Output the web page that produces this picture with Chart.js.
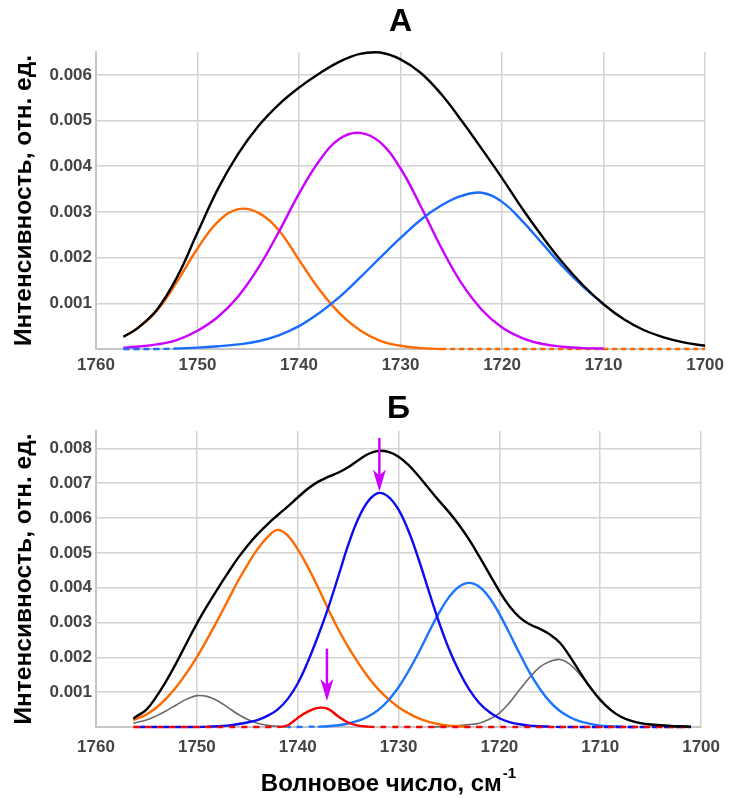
<!DOCTYPE html>
<html lang="ru">
<head>
<meta charset="utf-8">
<title>Разложение полосы</title>
<script src="https://cdn.jsdelivr.net/npm/chart.js@4.4.1/dist/chart.umd.min.js"></script>
<style>
  body { margin: 0; background: #fff; }
  canvas { position: absolute; left: 0; }
  #chartA { top: 0; }
  #chartB { top: 390px; }
</style>
</head>
<body>
<canvas id="chartA" width="730" height="390"></canvas>
<canvas id="chartB" width="730" height="408"></canvas>
<script>
// tick labels
const xTicks = [1760, 1750, 1740, 1730, 1720, 1710, 1700];
const yTicksA = [0, 0.001, 0.002, 0.003, 0.004, 0.005, 0.006];
const yTicksB = [0, 0.001, 0.002, 0.003, 0.004, 0.005, 0.006, 0.007, 0.008];

// panel A, wavenumber in cm-1
const wnA = [1757.3, 1756, 1754, 1752, 1750, 1748, 1746, 1744, 1742, 1740, 1738, 1736, 1734, 1732, 1730,
  1728, 1726, 1724, 1722, 1720, 1718, 1716, 1714, 1712, 1710, 1708, 1706, 1704, 1702, 1700];
const blackA = [0.00027, 0.00044, 0.00086, 0.00158, 0.00255, 0.0035, 0.00427, 0.00488, 0.00535, 0.00572, 0.00603,
  0.00629, 0.00646, 0.00649, 0.00634, 0.00604, 0.00558, 0.005, 0.00438, 0.00374, 0.00307, 0.00245, 0.00188,
  0.00139, 0.00098, 0.00065, 0.00041, 0.00025, 0.00014, 0.00007];
const orangeA = [0.00027, 0.00044, 0.00084, 0.00148, 0.0022, 0.00278, 0.00306, 0.00298, 0.0026, 0.00195, 0.0013,
  0.00078, 0.00041, 0.00018, 0.00007, 0.00002, 0, 0, 0, 0, 0, 0, 0, 0, 0, 0, 0, 0, 0, 0];
const magentaA = [0.00003, 0.00005, 0.0001, 0.0002, 0.0004, 0.0007, 0.00115, 0.00178, 0.00256, 0.0034, 0.00412,
  0.0046, 0.00473, 0.00452, 0.00395, 0.00312, 0.00222, 0.00144, 0.00086, 0.00047, 0.00024, 0.00011, 0.00005,
  0.00002, 0.00001, null, null, null, null, null];
const blueA = [0, 0, 0, 0.00001, 0.00003, 0.00006, 0.0001, 0.00017, 0.0003, 0.0005, 0.00079, 0.00114, 0.00156,
  0.002, 0.00243, 0.00283, 0.00314, 0.00335, 0.00342, 0.00322, 0.0028, 0.0023, 0.0018, 0.00136, 0.00098,
  null, null, null, null, null];

// panel B
const wnB = [1756.3, 1756, 1755, 1754, 1753, 1752, 1751, 1750, 1749, 1748, 1747, 1746, 1745, 1744, 1743, 1742,
  1741, 1740, 1739, 1738, 1737, 1736, 1735, 1734, 1733, 1732, 1731, 1730, 1729, 1728, 1727, 1726, 1725, 1724,
  1723, 1722, 1721, 1720, 1719, 1718, 1717, 1716, 1715, 1714, 1713, 1712, 1711, 1710, 1709, 1708, 1707, 1706,
  1705, 1704, 1703, 1702, 1701];
const blackB = [0.00024, 0.0003, 0.0005, 0.00088, 0.00134, 0.00186, 0.00242, 0.00297, 0.00347, 0.00394, 0.00439,
  0.00482, 0.0052, 0.00553, 0.00582, 0.00608, 0.00633, 0.00659, 0.00684, 0.00704, 0.00718, 0.0073, 0.00746,
  0.00766, 0.00784, 0.00793, 0.0079, 0.00776, 0.00752, 0.0072, 0.00685, 0.0065, 0.00617, 0.0058, 0.00538,
  0.0049, 0.0044, 0.0039, 0.00347, 0.00315, 0.00295, 0.00282, 0.00266, 0.00242, 0.00202, 0.00157, 0.00114,
  0.00078, 0.0005, 0.0003, 0.00018, 0.00011, 0.00007, 0.00005, 0.00003, 0.00002, 0.00001];
const orangeB = [0.0002, 0.00023, 0.00036, 0.00056, 0.00083, 0.00116, 0.00156, 0.00201, 0.00251, 0.00304, 0.00359,
  0.00415, 0.00465, 0.0051, 0.00545, 0.00566, 0.0055, 0.0051, 0.0046, 0.00402, 0.0034, 0.00282, 0.0023,
  0.00184, 0.00143, 0.00108, 0.0008, 0.00057, 0.00039, 0.00025, 0.00015, 0.00008, 0.00004, 0.00002, 0,
  null, null, null, null, null, null, null, null, null, null, null,
  null, null, null, null, null, null, null, null, null, null, null];
const grayB = [0.0001, 0.00013, 0.0002, 0.00032, 0.00047, 0.00064, 0.0008, 0.0009, 0.00088, 0.00076, 0.00058,
  0.00038, 0.00022, 0.00011, 0.00005, 0.00002, 0,
  null, null, null, null, null, null, null, null, null, null, null, null, null,
  0, 0.00001, 0.00002, 0.00004, 0.00007, 0.00011, 0.00022, 0.0004, 0.0007, 0.00107, 0.00142, 0.00172, 0.00188,
  0.00194, 0.0018, 0.0015, 0.00113, 0.00078, 0.0005, 0.0003, 0.00018, 0.00011, 0.00007, 0.00004, 0.00002,
  0.00001, 0];
const darkBlueB = [0, 0, 0, 0, 0, 0, 0, 0,
  0.00001, 0.00002, 0.00004, 0.00008, 0.00013, 0.0002, 0.00032, 0.0005, 0.0008, 0.00125, 0.00187, 0.0026, 0.0034,
  0.0043, 0.00522, 0.00598, 0.00649, 0.00672, 0.00661, 0.00624, 0.00562, 0.00481, 0.0039, 0.00302, 0.00224, 0.0016,
  0.00108, 0.00069, 0.00043, 0.00025, 0.00014, 0.00008, 0.00004, 0.00002, 0.00001,
  0, 0, 0, 0, 0, 0, 0, 0, 0, 0, 0, 0, 0, 0];
const redB = [0, 0, 0, 0, 0, 0, 0, 0, 0, 0, 0, 0, 0, 0, 0, 0,
  0.00005, 0.00026, 0.00044, 0.00055, 0.00052, 0.00031, 0.00013, 0.00004, 0.00001,
  0, 0, 0, 0, 0, 0, 0, 0, 0, 0, 0, 0, 0, 0, 0, 0, 0, 0, 0, 0, 0, 0, 0, 0, 0, 0, 0, 0, 0, 0, 0, 0];
const lightBlueB = [null, null, null, null, null, null, null, null, null, null, null, null, null, null, null, null,
  0, 0, 0.00001, 0.00001, 0.00002, 0.00005, 0.0001, 0.00018, 0.0003, 0.00049, 0.00077, 0.00114, 0.00161,
  0.00214, 0.00272, 0.00327, 0.00373, 0.00403, 0.00414, 0.00403, 0.00372, 0.00325, 0.00269, 0.00211, 0.00156,
  0.0011, 0.00073, 0.00046, 0.00028, 0.00016, 0.00009, 0.00004, 0.00002, 0.00001, 0, 0,
  null, null, null, null, null];

// magenta arrows on panel B: wavenumber, tail and tip intensity
const arrowX = [1731.9, 1737.1];
const arrowTail = [0.0083, 0.00225];
const arrowTip = [0.00676, 0.00075];

const FONT = "'Liberation Sans', Arial, sans-serif";
const ZERO = 1.5e-5;
Chart.defaults.font.family = FONT;

function lineSet(xs, ys, color, width, dash, dashOffset) {
  return {
    data: xs.map((x, i) => ({ x, y: ys[i] })),
    borderColor: color,
    borderWidth: width,
    pointRadius: 0,
    tension: 0.4,
    clip: 6,
    borderDashOffset: dashOffset || 0,
    segment: dash
      ? { borderDash: (ctx) => (ctx.p0.parsed.y < ZERO && ctx.p1.parsed.y < ZERO ? dash : undefined) }
      : {},
  };
}

function buildOptions(title, titlePad, yMax, yTicks, tickPad, axisHeight, rightPad) {
  return {
    responsive: false,
    animation: false,
    layout: { padding: { left: 0, right: rightPad, top: 0, bottom: 0 } },
    plugins: {
      legend: { display: false },
      tooltip: { enabled: false },
      title: {
        display: true,
        text: title,
        fullSize: false,
        color: "#000",
        font: { size: 32, weight: "bold", lineHeight: 1 },
        padding: titlePad,
      },
    },
    scales: {
      x: {
        type: "linear",
        min: 1700,
        max: 1760,
        reverse: true,
        afterBuildTicks: (s) => { s.ticks = xTicks.map((v) => ({ value: v })); },
        afterFit: (s) => { s.height = axisHeight; },
        ticks: {
          padding: tickPad,
          maxRotation: 0,
          autoSkip: false,
          color: "#444",
          font: { size: 17, weight: "bold" },
          callback: (v) => String(v),
        },
        grid: { color: "#d2d2d2", lineWidth: 1.5, drawTicks: false },
        border: { color: "#c6c6c6", width: 2 },
      },
      y: {
        min: 0,
        max: yMax,
        afterBuildTicks: (s) => { s.ticks = yTicks.map((v) => ({ value: v })); },
        afterFit: (s) => { s.width = 96; },
        ticks: {
          padding: 4,
          color: "#444",
          font: { size: 17, weight: "bold" },
          callback: (v) => (v === 0 ? "" : v.toFixed(3)),
        },
        grid: { color: "#d2d2d2", lineWidth: 1.5, drawTicks: false },
        border: { color: "#c6c6c6", width: 2 },
        title: {
          display: true,
          text: "Интенсивность, отн. ед.",
          color: "#000",
          font: { size: 24.5, weight: "bold", lineHeight: 1 },
          padding: { top: 12, bottom: 0 },
        },
      },
    },
  };
}

const arrowPlugin = {
  id: "arrows",
  afterDatasetsDraw(chart) {
    const { ctx, scales: { x, y } } = chart;
    ctx.save();
    ctx.strokeStyle = "#cc00ff";
    ctx.fillStyle = "#cc00ff";
    ctx.lineWidth = 2.5;
    arrowX.forEach((wn, i) => {
      const px = x.getPixelForValue(wn);
      const tail = y.getPixelForValue(arrowTail[i]);
      const tip = y.getPixelForValue(arrowTip[i]);
      ctx.beginPath();
      ctx.moveTo(px, tail);
      ctx.lineTo(px, tip - 12);
      ctx.stroke();
      ctx.beginPath();
      ctx.moveTo(px, tip);
      ctx.lineTo(px - 6.5, tip - 22);
      ctx.lineTo(px, tip - 16);
      ctx.lineTo(px + 6.5, tip - 22);
      ctx.closePath();
      ctx.fill();
    });
    ctx.restore();
  },
};

const xTitlePlugin = {
  id: "xTitle",
  afterDraw(chart) {
    const ctx = chart.ctx;
    const main = "Волновое число, см";
    const sup = "-1";
    ctx.save();
    ctx.fillStyle = "#000";
    ctx.textBaseline = "alphabetic";
    ctx.font = `bold 24px ${FONT}`;
    const w1 = ctx.measureText(main).width;
    ctx.font = `bold 15px ${FONT}`;
    const w2 = ctx.measureText(sup).width;
    const left = 388 - (w1 + w2) / 2;
    ctx.font = `bold 24px ${FONT}`;
    ctx.fillText(main, left, 401);
    ctx.font = `bold 15px ${FONT}`;
    ctx.fillText(sup, left + w1 + 1, 388);
    ctx.restore();
  },
};

document.addEventListener("DOMContentLoaded", () => {
  new Chart(document.getElementById("chartA"), {
    type: "line",
    data: {
      datasets: [
        lineSet(wnA, blackA, "#000000", 2.4),
        lineSet(wnA, blueA, "#1a6cff", 2.4, [6, 4]),
        lineSet(wnA, magentaA, "#cc00ff", 2.4),
        lineSet(wnA, orangeA, "#ff6a00", 2.4, [5, 4]),
      ],
    },
    options: buildOptions("А", { top: 6, bottom: 14 }, 0.0065, yTicksA, 6, 41, 24),
  });

  new Chart(document.getElementById("chartB"), {
    type: "line",
    data: {
      datasets: [
        lineSet(wnB, blackB, "#000000", 2.4),
        lineSet(wnB, redB, "#f50000", 2.4, [6, 6], 0),
        lineSet(wnB, darkBlueB, "#0c0cf0", 2.4, [6, 6], 6),
        lineSet(wnB, lightBlueB, "#1a75ff", 2.4, [6, 6], 3),
        lineSet(wnB, orangeB, "#ff6a00", 2.4),
        lineSet(wnB, grayB, "#6a6a6a", 1.6),
      ],
    },
    options: buildOptions("Б", { top: 3, bottom: 6 }, 0.0085, yTicksB, 10, 71, 25),
    plugins: [arrowPlugin, xTitlePlugin],
  });
});
</script>
</body>
</html>
